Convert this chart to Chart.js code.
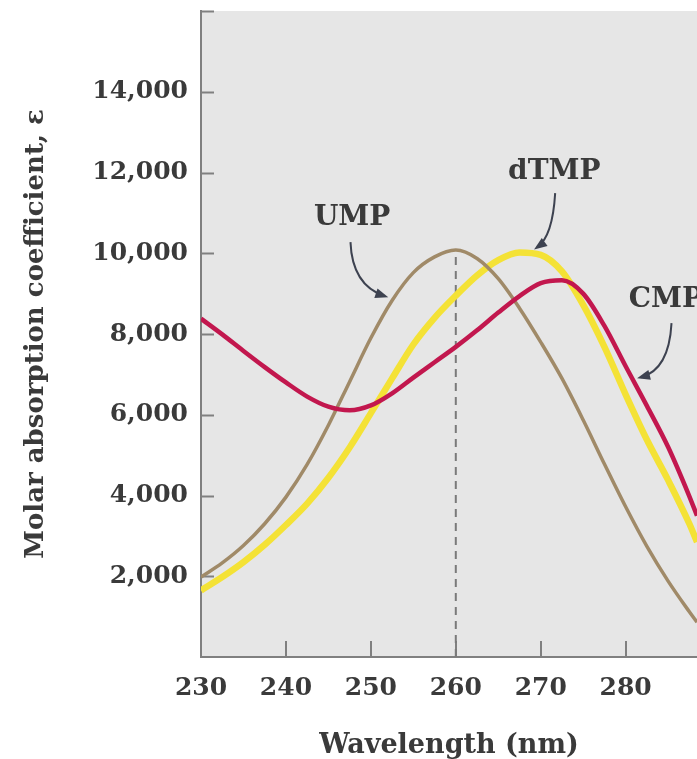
<!DOCTYPE html>
<html>
<head>
<meta charset="utf-8">
<script src="https://cdn.jsdelivr.net/npm/chart.js@4.4.1/dist/chart.umd.min.js"></script>
<style>
  html, body { margin: 0; padding: 0; background: #fff; }
</style>
</head>
<body>
<canvas id="absChart" width="697" height="759"></canvas>
<script>
// wavelength (nm) and molar absorption coefficient
const wavelengths = [230, 232.5, 235, 237.5, 240, 242.5, 245, 247.5, 250, 252.5, 255, 257.5, 260,
  262.5, 265, 267.5, 270, 272.5, 275, 277.5, 280, 282.5, 285, 287.5, 288.4];
const ump = [1980, 2330, 2760, 3300, 3960, 4770, 5740, 6820, 7900, 8830, 9520, 9910, 10080,
  9870, 9370, 8640, 7800, 6900, 5870, 4780, 3720, 2740, 1880, 1120, 860];
const dtmp = [1650, 1980, 2350, 2780, 3270, 3800, 4440, 5190, 6040, 6900, 7740, 8400, 8950,
  9450, 9830, 10020, 9960, 9550, 8720, 7680, 6500, 5380, 4380, 3300, 2850];
const cmp = [8380, 7990, 7580, 7180, 6800, 6450, 6200, 6110, 6230, 6530, 6920, 7300, 7680,
  8090, 8530, 8940, 9260, 9330, 9000, 8200, 7200, 6220, 5200, 3980, 3500];

const xTicks = [230, 240, 250, 260, 270, 280];
const yTicks = [0, 2000, 4000, 6000, 8000, 10000, 12000, 14000, 16000];
const yLabelled = [2000, 4000, 6000, 8000, 10000, 12000, 14000];

// dashed marker under the UMP maximum
const markerX = [260, 260];
const markerY = [0, 10080];

// curve labels with their arrows (data units)
const callouts = [
  { text: 'UMP', at: [247.8, 10870], align: 'center', from: [247.6, 10275], bend: [247.8, 9210], to: [251.6, 8940] },
  { text: 'dTMP', at: [271.6, 12010], align: 'center', from: [271.7, 11490], bend: [271.4, 10420], to: [269.6, 10150] },
  { text: 'CMP', at: [280.35, 8840], align: 'left', from: [285.4, 8270], bend: [285.1, 7110], to: [281.8, 6930] }
];

const serif = "'DejaVu Serif', 'Liberation Serif', serif";
const inkColor = '#3a3a3a';
const axisGray = '#808080';
const plotGray = '#e6e6e6';

function pts(ys) {
  return wavelengths.map((w, i) => ({ x: w, y: ys[i] }));
}

const paperPlugin = {
  id: 'paper',
  beforeDraw(chart) {
    const { ctx, chartArea: a } = chart;
    ctx.save();
    ctx.fillStyle = plotGray;
    ctx.fillRect(a.left, a.top, a.right - a.left, a.bottom - a.top);
    ctx.restore();
  },
  beforeDatasetsDraw(chart) {
    // tick marks point into the plot
    const { ctx, chartArea: a, scales } = chart;
    ctx.save();
    ctx.strokeStyle = axisGray;
    ctx.lineWidth = 2;
    ctx.beginPath();
    xTicks.forEach(v => {
      if (v === 230) return;
      const px = Math.round(scales.x.getPixelForValue(v));
      ctx.moveTo(px, a.bottom);
      ctx.lineTo(px, a.bottom - 16);
    });
    yTicks.forEach(v => {
      if (v === 0) return;
      const py = Math.round(scales.y.getPixelForValue(v)) + 0.5;
      ctx.moveTo(a.left, py);
      ctx.lineTo(a.left + 13, py);
    });
    ctx.stroke();
    ctx.restore();
  },
  afterDraw(chart) {
    const { ctx, scales } = chart;
    const X = v => scales.x.getPixelForValue(v);
    const Y = v => scales.y.getPixelForValue(v);
    ctx.save();
    ctx.font = "bold 28px " + serif;
    ctx.textBaseline = 'middle';
    callouts.forEach(c => {
      ctx.fillStyle = inkColor;
      ctx.textAlign = c.align;
      ctx.fillText(c.text, X(c.at[0]), Y(c.at[1]));
      const x0 = X(c.from[0]), y0 = Y(c.from[1]);
      const xc = X(c.bend[0]), yc = Y(c.bend[1]);
      const x1 = X(c.to[0]), y1 = Y(c.to[1]);
      ctx.strokeStyle = '#3d4250';
      ctx.lineWidth = 2;
      ctx.beginPath();
      ctx.moveTo(x0, y0);
      ctx.quadraticCurveTo(xc, yc, x1, y1);
      ctx.stroke();
      // arrow head along the end tangent
      const ang = Math.atan2(y1 - yc, x1 - xc);
      ctx.fillStyle = '#3d4250';
      ctx.beginPath();
      ctx.moveTo(x1 + 4 * Math.cos(ang), y1 + 4 * Math.sin(ang));
      ctx.lineTo(x1 - 9 * Math.cos(ang) + 5 * Math.sin(ang), y1 - 9 * Math.sin(ang) - 5 * Math.cos(ang));
      ctx.lineTo(x1 - 9 * Math.cos(ang) - 5 * Math.sin(ang), y1 - 9 * Math.sin(ang) + 5 * Math.cos(ang));
      ctx.closePath();
      ctx.fill();
    });
    ctx.restore();
  }
};

const tickFont = { family: serif, size: 25, weight: 'bold' };
const xTitleFont = { family: serif, size: 27, weight: 'bold', lineHeight: 1 };
const yTitleFont = { family: serif, size: 26, weight: 'bold', lineHeight: 1 };

new Chart(document.getElementById('absChart'), {
  type: 'line',
  data: {
    datasets: [
      {
        label: 'CMP', data: pts(cmp), borderColor: '#c2174e', borderWidth: 4.5,
        pointRadius: 0, cubicInterpolationMode: 'monotone', fill: false, order: 1
      },
      {
        label: 'UMP', data: pts(ump), borderColor: '#a08a68', borderWidth: 3.5,
        pointRadius: 0, cubicInterpolationMode: 'monotone', fill: false, order: 2
      },
      {
        label: 'dTMP', data: pts(dtmp), borderColor: '#f4e236', borderWidth: 6.5,
        pointRadius: 0, cubicInterpolationMode: 'monotone', fill: false, order: 3
      },
      {
        label: 'max', data: markerX.map((x, i) => ({ x: x, y: markerY[i] })), borderColor: '#7a7a7a',
        borderWidth: 2, borderDash: [8, 6], pointRadius: 0, fill: false, order: 4
      }
    ]
  },
  options: {
    responsive: false,
    animation: false,
    events: [],
    layout: { padding: { top: 11, right: 0, bottom: 0, left: 0 } },
    plugins: { legend: { display: false }, tooltip: { enabled: false } },
    scales: {
      x: {
        type: 'linear', min: 230, max: 288.4,
        afterFit: s => { s.height = 102; s.paddingLeft = 0; s.paddingRight = 0; },
        afterBuildTicks: s => { s.ticks = xTicks.map(v => ({ value: v })); },
        grid: { display: false, drawTicks: false },
        border: { display: true, color: axisGray, width: 2 },
        ticks: { font: tickFont, color: inkColor, padding: 16, autoSkip: false, maxRotation: 0 },
        title: {
          display: true, text: 'Wavelength (nm)', color: inkColor,
          font: xTitleFont, padding: { top: 0, bottom: 0 }
        }
      },
      y: {
        type: 'linear', min: 0, max: 16000,
        afterFit: s => { s.width = 201; s.paddingTop = 0; s.paddingBottom = 0; },
        afterBuildTicks: s => { s.ticks = yTicks.map(v => ({ value: v })); },
        grid: { display: false, drawTicks: false },
        border: { display: true, color: axisGray, width: 2 },
        ticks: {
          font: tickFont, color: inkColor, padding: 13, autoSkip: false,
          callback: v => yLabelled.includes(v) ? v.toLocaleString('en-US') : ''
        },
        title: {
          display: true, text: 'Molar absorption coefficient, ε', color: inkColor,
          font: yTitleFont, padding: { top: 23, bottom: 0 }
        }
      }
    }
  },
  plugins: [paperPlugin]
});
</script>
</body>
</html>
